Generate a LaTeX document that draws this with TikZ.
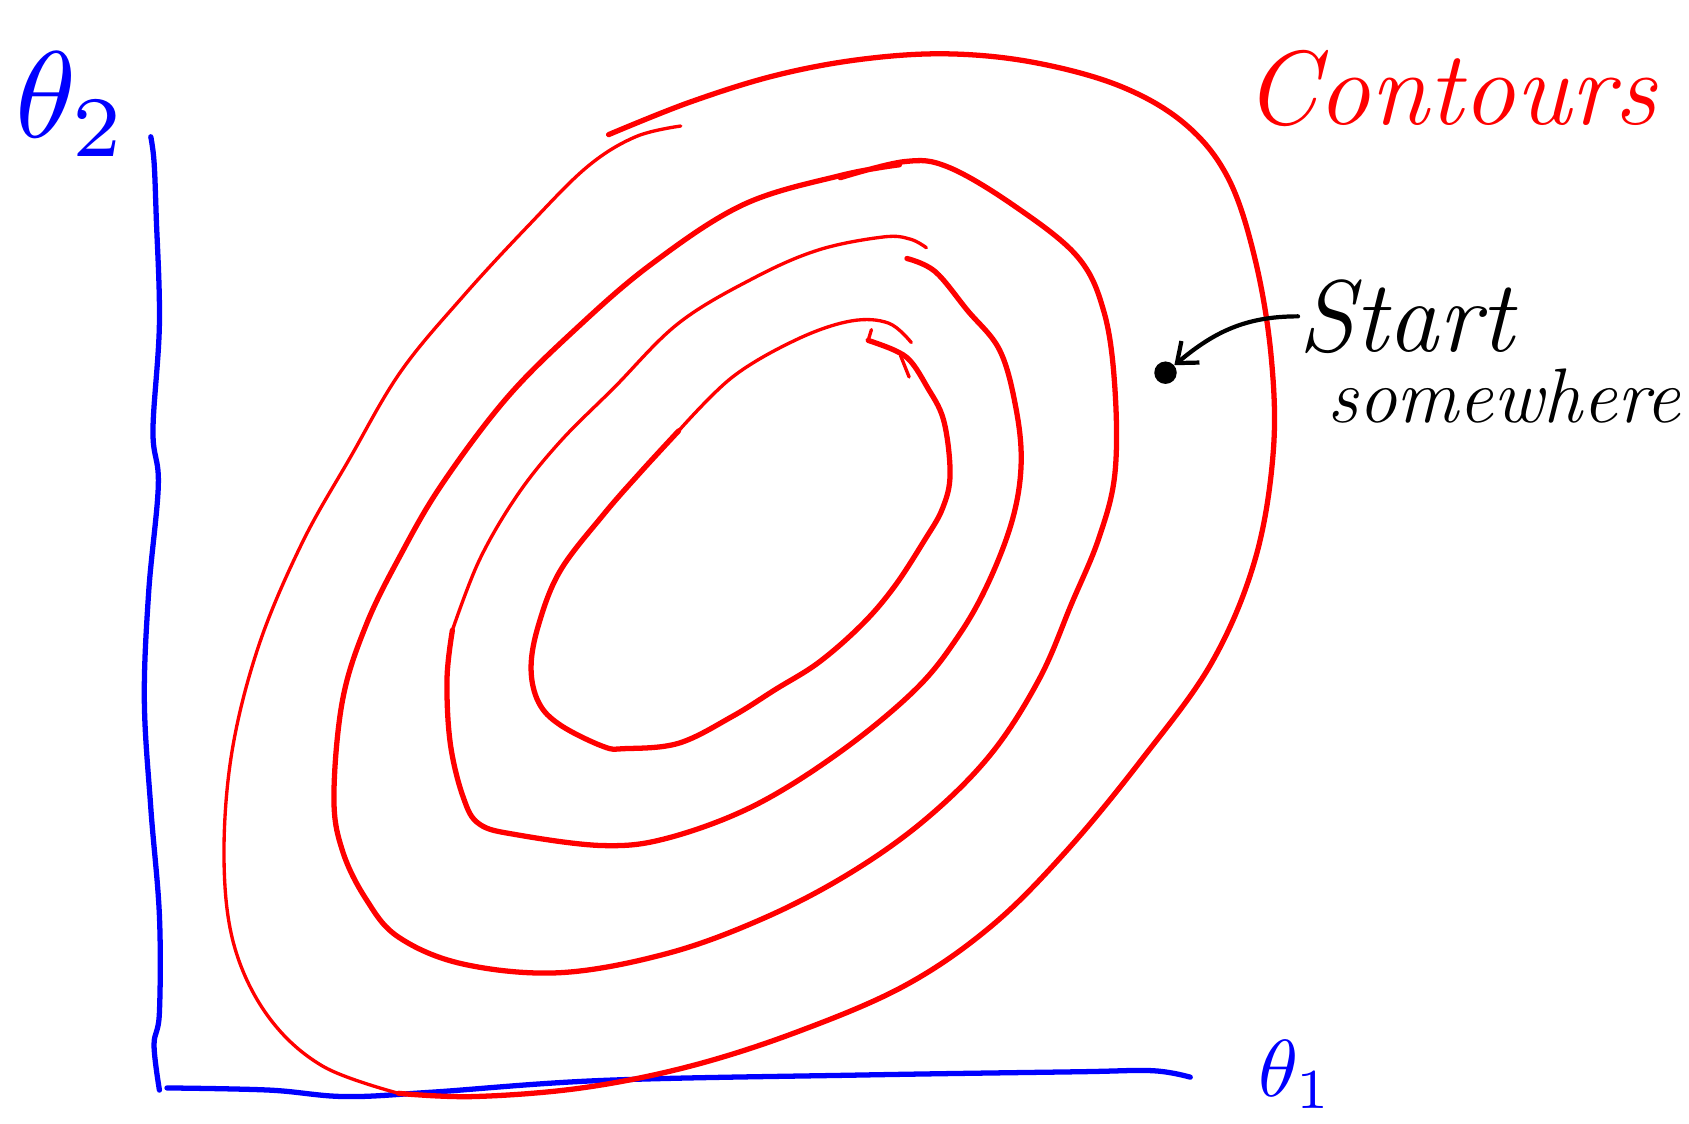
\documentclass[tikz,border=0pt]{standalone}
\usepackage{amsmath}
\usepackage{graphicx}
\usepackage{xcolor}
\usetikzlibrary{arrows.meta, positioning}
\definecolor{penred}{RGB}{255,0,0}
\definecolor{penblue}{RGB}{0,0,255}

\begin{document}
\begin{tikzpicture}[x=0.021544cm,y=-0.021544cm,
  axisline/.style={penblue,line width=3pt,line cap=round,line join=round},
  ringthick/.style={penred,line width=3pt,line cap=round,line join=round},
  ringthin/.style={penred,line width=1.9pt,line cap=round,line join=round},
  inklabel/.style={inner sep=0pt,outer sep=0pt,anchor=base west}]
\useasboundingbox (0,0) rectangle (1568,1043);
% axes
\draw[axisline] plot[smooth,tension=0.6] coordinates {(140,127) (143,150) (145,200) (148,300) (142,400) (147,450) (138,550) (134,650) (140,750) (148,850) (148,940) (143,970) (148,1012)};
\draw[axisline] plot[smooth,tension=0.6] coordinates {(155,1010) (250,1012) (320,1018) (400,1014) (560,1003) (800,998) (1000,995) (1070,994) (1105,1000)};
\node[inklabel,penblue] (thetatwo) at (14,128) {\scalebox{7}{$\theta_2$}};
\node[inklabel,penblue] (thetaone) at (1168,1018) {\scalebox{4.6}{$\theta_1$}};
% contours, outer to inner
\draw[ringthick] plot[smooth,tension=0.6] coordinates {(565,125) (640,95) (720,70) (800,55) (880,50) (960,58) (1040,80) (1100,115) (1140,165) (1165,240) (1180,330) (1182,420) (1165,520) (1125,615) (1060,705) (990,790) (920,860) (840,915) (740,958) (640,990) (540,1010) (440,1018) (370,1015)};
\draw[ringthin] plot[smooth,tension=0.6] coordinates {(370,1015) (300,990) (250,945) (218,880) (208,800) (215,700) (240,600) (280,505) (325,425) (372,345) (430,275) (490,210) (545,155) (590,127) (632,117)};
\draw[ringthick] plot[smooth,tension=0.6] coordinates {(780,165) (840,150) (880,155) (940,190) (1000,238) (1025,290) (1035,360) (1035,440) (1020,500) (995,560) (965,630) (920,700) (860,760) (790,810) (710,852) (620,885) (520,903) (430,895) (370,870) (340,835) (318,790) (310,740) (318,650) (340,580) (372,515) (410,450) (470,370) (535,305) (605,245) (690,190) (780,163) (835,153)};
\draw[ringthick] plot[smooth,tension=0.6] coordinates {(842,240) (868,252) (898,288) (928,325) (943,378) (948,430) (940,482) (918,540) (890,590) (850,640) (780,698) (700,748) (620,778) (560,785) (480,775) (445,765) (430,740) (418,690) (415,630) (420,585)};
\draw[ringthin] plot[smooth,tension=0.6] coordinates {(420,585) (445,520) (480,460) (520,410) (570,360) (630,300) (700,258) (760,232) (820,220) (845,222) (860,230)};
\draw[ringthick] plot[smooth,tension=0.6] coordinates {(806,316) (830,325) (845,335) (860,358) (876,390) (882,440) (875,472) (858,502) (830,545) (800,580) (760,615) (720,640) (680,665) (630,690) (580,695) (560,693) (520,673) (500,652) (493,620) (500,580) (520,530) (560,478) (595,438) (630,400)};
\draw[ringthin] plot[smooth,tension=0.6] coordinates {(630,400) (680,350) (740,315) (790,298) (825,300) (846,318)};
\draw[ringthin] (809,306) -- (806,316);
\draw[ringthin] (836,330) -- (844,350);
% labels
\node[inklabel,penred,font=\fontsize{60}{60}\selectfont\itshape] (contours) at (1155,116) {Contours};
\node[inklabel,font=\fontsize{58}{58}\selectfont\itshape] (startlbl) at (1205,326) {Start};
\node[inklabel,font=\fontsize{44}{44}\selectfont\itshape] (somewhere) at (1232,392) {somewhere};
\node[circle,fill=black,minimum size=0.45cm,inner sep=0pt] (startdot) at (1082,346) {};
\draw[line width=2.4pt,line cap=round,-{Straight Barb[length=10pt,width=16pt]}] (startlbl.west) to[out=180,in=40] (startdot);
\end{tikzpicture}
\end{document}
